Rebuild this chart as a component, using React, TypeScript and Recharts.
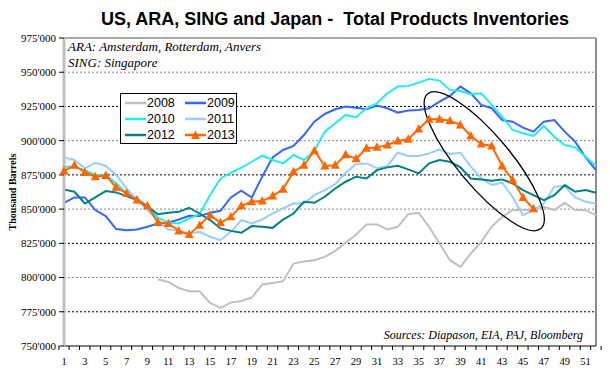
import React from 'react';
import { LineChart, Line, XAxis, YAxis, ReferenceLine, ReferenceDot, Legend } from 'recharts';

const serif = '"Liberation Serif", "Times New Roman", serif';
const sans = '"Liberation Sans", Arial, sans-serif';

// weeks of the year
const weeks = Array.from({ length: 52 }, (_, i) => i + 1);
const yTicks = [750, 775, 800, 825, 850, 875, 900, 925, 950, 975];

// thousand barrels
const inv2008 = [
  null, null, null, null, null, null, null, null, null,
  798.8, 796.8, 792.4, 790, 790, 781.5, 777.8, 781.7, 782.9, 785.4, 794.9, 796.1, 797.3, 810.2, 811.7, 812.7, 815.1,
  819.5, 825.4, 831.5, 838.8, 838.8, 835.1, 837.1, 846.3, 847.3, 837.1, 824.9, 812.7, 807.8, 817.6, 826.1, 837.1,
  844.4, 849.3, 849.3, 849.3, 851.7, 849.3, 854.6, 849.3, 849.3, 845.6,
];
const inv2009 = [
  854.6, 858.5, 858.5, 849.3, 844.9, 835.4, 834.6, 835.1, 837.1, 839.5, 840, 842.4, 845.1, 844.9, 847.3, 848.8,
  858.5, 863.4, 858.5, 873.7, 887.8, 893.2, 896.1, 904.1, 913.9, 919.5, 922.9, 924.9, 924.1, 922.9, 925.6, 923.7,
  920.5, 922, 922.4, 923.7, 928.5, 932.7, 939.5, 934.6, 926.1, 923.7, 915.1, 913.9, 909.5, 906.6, 913.9, 915.1,
  906.6, 899.3, 887.8, 878.5,
];
const inv2010 = [
  881, 881, 878.5, 874.9, 874.9, 868.8, 861.5, 858.3, 851.7, 843.7, 840, 839.5, 843.2, 846.3, 860.2, 872.4,
  876.6, 880.2, 884.6, 889, 885.9, 883.4, 889.5, 885.9, 892.7, 906.6, 912.7, 918.8, 917.1, 923.7, 927.3, 934.6,
  939.5, 940, 942.4, 945.1, 943.9, 937.1, 936.3, 933.9, 934.6, 926.1, 917.6, 907.8, 905.4, 903.4, 910.7, 902.9,
  896.8, 895.1, 888.3, 881.5,
];
const inv2011 = [
  887.8, 885.9, 879.8, 883.9, 881.5, 874.9, 865.1, 856.6, 849.3, 841.5, 835.1, 834.1, 832.2, 833.4, 829.8, 827.3,
  833.4, 842, 839.5, 842.4, 846.8, 850.5, 854.1, 854.1, 860.2, 863.9, 868.3, 876.6, 882.9, 883.4, 879.8, 881.5,
  891.2, 888.8, 888.8, 890.7, 893.7, 890.2, 891.2, 881, 872.4, 867.6, 869.3, 859, 845.6, 849.3, 854.1, 866.3,
  866.8, 858.5, 855.4, 854.1,
];
const inv2012 = [
  864.4, 862.7, 854.1, 858.5, 863.2, 862.2, 859.5, 856.6, 851.7, 846.3, 847.3, 848, 851, 846.8, 842, 835.9,
  834.1, 832.7, 837.6, 837.1, 836.3, 842.4, 846.8, 855.4, 854.6, 859, 865.1, 870, 873.7, 872.4, 878.5, 880.5,
  881.7, 879, 876.1, 883.4, 885.9, 884.6, 880.5, 872.4, 871.7, 870.7, 871.7, 868.8, 863.9, 860.2, 856.6, 860.2,
  867.6, 862.7, 863.9, 862,
];
const inv2013 = [
  877.8, 882, 876.8, 873.7, 874.6, 865.9, 861.5, 856.6, 852.4, 840.2, 839.5, 834.1, 831.5, 838.3, 845.6, 840,
  844.4, 852.4, 855.4, 855.9, 859.5, 864.6, 877.3, 882, 892.7, 881.5, 882, 889.8, 886.8, 894.4, 895.1, 896.8,
  899.8, 901, 908.5, 915.6, 915.6, 914.6, 911.5, 903.4, 897.6, 896.1, 881.5, 871.2, 858.5, 850.2,
];

const series = [
  { key: '2008', values: inv2008, color: '#c0c0c0' },
  { key: '2009', values: inv2009, color: '#3366ff' },
  { key: '2010', values: inv2010, color: '#22eeee' },
  { key: '2011', values: inv2011, color: '#99ccff' },
  { key: '2012', values: inv2012, color: '#008080' },
  { key: '2013', values: inv2013, color: '#ff6600' },
];

const data = weeks.map((w, i) => {
  const row: any = { week: w };
  series.forEach((s) => {
    row[s.key] = s.values[i] ?? null;
  });
  return row;
});

const Triangle = (props: any) => {
  const { cx, cy, index } = props;
  if (cx == null || cy == null || isNaN(cy)) return <g key={index} />;
  return (
    <polygon
      key={index}
      points={`${cx},${cy - 5} ${cx - 4.5},${cy + 3.5} ${cx + 4.5},${cy + 3.5}`}
      fill="#ff6600"
    />
  );
};

const WeekTick = (props: any) => {
  const { x, y, payload } = props;
  const half = payload.offset || 5.1;
  return (
    <g>
      <line x1={x + half} x2={x + half} y1={y - 4} y2={y} stroke="#000" />
      {payload.index === 0 && <line x1={x - half} x2={x - half} y1={y - 4} y2={y} stroke="#000" />}
      {payload.value % 2 === 1 && (
        <text x={x} y={y + 15} textAnchor="middle" fontFamily={serif} fontSize={10.5} fill="#000">
          {payload.value}
        </text>
      )}
    </g>
  );
};

const LegendBox = () => (
  <div
    style={{
      border: '1px solid #000',
      background: '#fff',
      display: 'grid',
      gridTemplateColumns: '60px 50px',
      paddingLeft: 4,
      paddingTop: 1,
      fontFamily: sans,
      fontSize: 12.5,
      lineHeight: '16px',
      boxSizing: 'border-box',
      width: 117,
      height: 51,
    }}
  >
    {series.map((s) => (
      <div key={s.key} style={{ display: 'flex', alignItems: 'center', height: 16, whiteSpace: 'nowrap' }}>
        <svg width={21} height={10} style={{ marginRight: 1, flex: 'none' }}>
          <line x1={0} x2={21} y1={5} y2={5} stroke={s.color} strokeWidth={2.5} />
          {s.key === '2013' && <polygon points="10.5,0.5 6,9 15,9" fill={s.color} />}
        </svg>
        <span>{s.key}</span>
      </div>
    ))}
  </div>
);

export default function App() {
  return (
    <div style={{ position: 'absolute', left: 0, top: 0, width: 610, height: 375, background: '#fff' }}>
      <div
        style={{
          position: 'absolute',
          left: 0,
          top: 9,
          width: 670,
          textAlign: 'center',
          fontFamily: sans,
          fontWeight: 'bold',
          fontSize: 18,
          lineHeight: '20px',
          whiteSpace: 'pre',
        }}
      >
        {'US, ARA, SING and Japan -  Total Products Inventories'}
      </div>
      <LineChart width={610} height={375} data={data} margin={{ top: 38, right: 14, bottom: 9, left: 8 }}>
        <XAxis
          dataKey="week"
          interval={0}
          height={20}
          tickSize={4}
          tickMargin={0}
          tickLine={false}
          axisLine={{ stroke: '#000' }}
          tick={<WeekTick />}
        />
        <YAxis
          domain={[750, 975]}
          ticks={yTicks}
          width={56}
          tickSize={5}
          tickMargin={3}
          tickLine={{ stroke: '#000' }}
          axisLine={{ stroke: '#bfbfbf', strokeWidth: 3 }}
          tick={{ fontFamily: serif, fontSize: 11, fill: '#000' }}
          tickFormatter={(v) => `${v}'000`}
          label={{
            value: 'Thousand Barrels',
            angle: -90,
            position: 'insideLeft',
            offset: 4,
            style: { fontFamily: serif, fontWeight: 'bold', fontSize: 10, fill: '#000', textAnchor: 'middle' },
          }}
        />
        {yTicks.slice(1, -1).map((t, i) => (
          <ReferenceLine key={t} y={t} stroke={i % 2 === 0 ? '#000' : '#8a8a8a'} strokeDasharray="2 2" />
        ))}
        <ReferenceLine y={975} stroke="#8c8c8c" strokeWidth={1.5} />
        <ReferenceLine x={52} position="end" stroke="#8c8c8c" strokeWidth={2} />
        {series.map((s) => (
          <Line
            key={s.key}
            dataKey={s.key}
            stroke={s.color}
            strokeWidth={2}
            type="linear"
            dot={s.key === '2013' ? (p: any) => <Triangle {...p} /> : false}
            activeDot={false}
            isAnimationActive={false}
          />
        ))}
        <ReferenceDot
          x={41}
          y={885}
          ifOverflow="visible"
          shape={(p: any) => (
            <ellipse
              cx={p.cx + 3}
              cy={p.cy}
              rx={88}
              ry={26}
              fill="none"
              stroke="#000"
              strokeWidth={1.3}
              transform={`rotate(50 ${p.cx + 3} ${p.cy})`}
            />
          )}
        />
        <Legend
          layout="vertical"
          align="center"
          verticalAlign="middle"
          wrapperStyle={{ left: 120, top: 93, width: 117, height: 51 }}
          content={() => <LegendBox />}
        />
      </LineChart>
      <div
        style={{
          position: 'absolute',
          left: 68,
          top: 39,
          fontFamily: serif,
          fontStyle: 'italic',
          fontSize: 13,
          lineHeight: '16px',
        }}
      >
        <div>ARA: Amsterdam, Rotterdam, Anvers</div>
        <div>SING: Singapore</div>
      </div>
      <div
        style={{
          position: 'absolute',
          right: 27,
          top: 328,
          fontFamily: serif,
          fontStyle: 'italic',
          fontSize: 12,
          lineHeight: '14px',
        }}
      >
        Sources: Diapason, EIA, PAJ, Bloomberg
      </div>
    </div>
  );
}
